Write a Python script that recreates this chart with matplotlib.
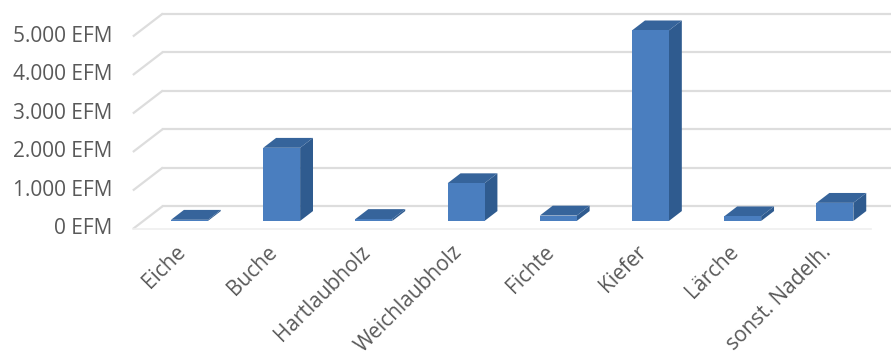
import matplotlib
matplotlib.use("Agg")
from matplotlib import pyplot as plt
from matplotlib.patches import Polygon, Rectangle

categories = ["Eiche", "Buche", "Hartlaubholz", "Weichlaubholz",
              "Fichte", "Kiefer", "Lärche", "sonst. Nadelh."]
values = [30, 1900, 50, 980, 140, 4950, 120, 470]
y_ticks = [0, 1000, 2000, 3000, 4000, 5000]
y_tick_labels = ["0 EFM", "1.000 EFM", "2.000 EFM", "3.000 EFM", "4.000 EFM", "5.000 EFM"]

# 3D look: depth vector (front floor -> back wall) in data units
DX = 0.325
DY = 597
Z0, Z1 = 0.35, 0.78
WIDTH = 0.40

FRONT = "#4a7ebf"
SIDE = "#2f5b8f"
TOP = "#36649b"
GRID = "#dddddd"
TEXT = "#595959"

plt.rcParams['font.family'] = ['Open Sans', 'DejaVu Sans']

fig = plt.figure(figsize=(8.91, 3.58), dpi=100)
ax = fig.add_axes([0, 0, 1, 1])
ax.set_xlim(-1.941, 7.722)
ax.set_ylim(-3351, 5948)
ax.axis("off")

n = len(categories)
left = -0.5
# grid lines: side wall + back wall
for k in y_ticks:
    ax.plot([left, left + DX], [k, k + DY], color=GRID, lw=1.6, zorder=1,
            solid_capstyle="butt")
    ax.plot([left + DX, n + 1], [k + DY, k + DY], color=GRID, lw=1.6, zorder=1)
# front floor edge (faint)
ax.plot([left, n - 0.5], [0, 0], color="#efefef", lw=1.2, zorder=1)

for i, v in enumerate(values):
    x0 = i - WIDTH / 2 + Z0 * DX
    x1 = i + WIDTH / 2 + Z0 * DX
    b0 = Z0 * DY
    b1 = Z1 * DY
    sx = (Z1 - Z0) * DX
    ax.add_patch(Polygon([(x1, b0), (x1 + sx, b1), (x1 + sx, b1 + v), (x1, b0 + v)],
                         closed=True, facecolor=SIDE, edgecolor="none", zorder=3))
    ax.add_patch(Polygon([(x0, b0 + v), (x1, b0 + v), (x1 + sx, b1 + v), (x0 + sx, b1 + v)],
                         closed=True, facecolor=TOP, edgecolor="none", zorder=3))
    ax.add_patch(Rectangle((x0, b0), x1 - x0, v, facecolor=FRONT, edgecolor="none", zorder=4))

for k, lab in zip(y_ticks, y_tick_labels):
    ax.text(-0.72, k, lab, ha="right", va="center", fontsize=15, color=TEXT)

for i, c in enumerate(categories):
    ax.text(i - 0.045, -320, c, ha="right", va="top", rotation=45,
            rotation_mode="anchor", fontsize=15, color=TEXT)

plt.savefig("out.png", dpi=100)
